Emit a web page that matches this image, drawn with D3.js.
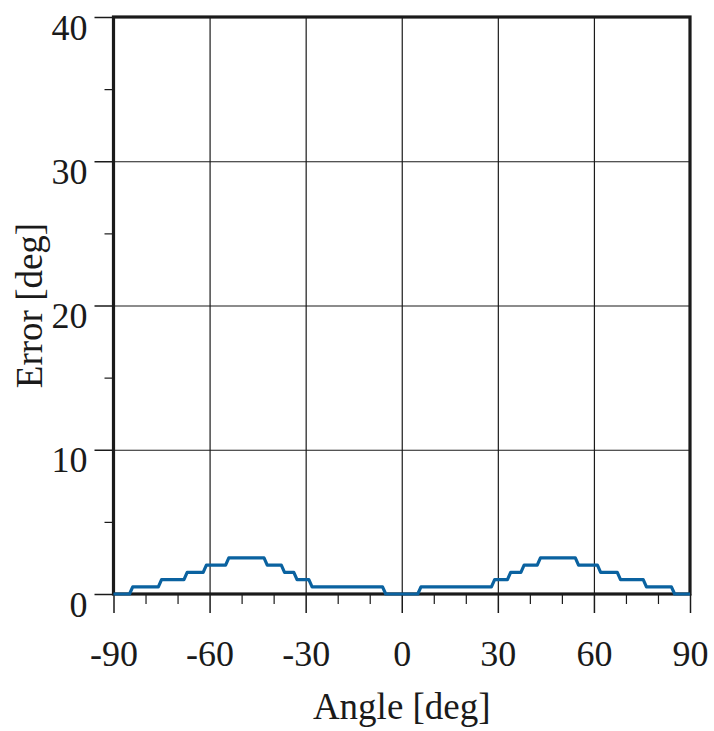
<!DOCTYPE html>
<html>
<head>
<meta charset="utf-8">
<script src="https://cdn.jsdelivr.net/npm/d3@7"></script>
<style>
  html, body { margin: 0; padding: 0; background: #fff; }
  svg { display: block; }
  text { font-family: "Liberation Serif", "Times New Roman", serif; fill: #1a1a1a; }
</style>
</head>
<body>
<svg id="chart" width="714" height="731"></svg>
<script>
// ---- data ----
const angles = [-90, -85, -84, -76, -75, -68, -67, -62, -61, -55, -54, -43, -42, -37.6, -36.6, -33.7, -32.7, -29, -28, -6, -5,
                5, 6, 28, 29, 33, 34, 37.2, 38.2, 42.3, 43.3, 54.2, 55.2, 61.1, 62.1, 67.3, 68.3, 75.4, 76.4, 84.2, 85.2, 90];
const errors = [0, 0, 0.5, 0.5, 1, 1, 1.5, 1.5, 2, 2, 2.5, 2.5, 2, 2, 1.5, 1.5, 1, 1, 0.5, 0.5, 0,
                0, 0.5, 0.5, 1, 1, 1.5, 1.5, 2, 2, 2.5, 2.5, 2, 2, 1.5, 1.5, 1, 1, 0.5, 0.5, 0, 0];
const xMajorTicks = [-90, -60, -30, 0, 30, 60, 90];
const xMinorTicks = [-80, -70, -50, -40, -20, -10, 10, 20, 40, 50, 70, 80];
const yMajorTicks = [0, 10, 20, 30, 40];
const yMinorTicks = [5, 15, 25, 35];
const xTitle = "Angle [deg]";
const yTitle = "Error [deg]";

// ---- layout ----
const svg = d3.select("#chart");
const pL = 113.5, pR = 690, pT = 17, pB = 594;
const x = d3.scaleLinear().domain([-90, 90]).range([pL, pR]);
const y = d3.scaleLinear().domain([0, 40]).range([pB, pT]);
const ink = "#1a1a1a";

// grid lines
svg.append("g")
  .attr("transform", `translate(0,${pB})`)
  .call(d3.axisBottom(x).tickValues(xMajorTicks.slice(1, -1)).tickSize(-(pB - pT)).tickFormat(""))
  .call(g => g.select(".domain").remove())
  .call(g => g.selectAll("line").attr("stroke", ink).attr("stroke-width", 1.2));
svg.append("g")
  .attr("transform", `translate(${pL},0)`)
  .call(d3.axisLeft(y).tickValues(yMajorTicks.slice(1, -1)).tickSize(-(pR - pL)).tickFormat(""))
  .call(g => g.select(".domain").remove())
  .call(g => g.selectAll("line").attr("stroke", ink).attr("stroke-width", 1.2));

// x axis ticks
const xAxisMajor = svg.append("g")
  .attr("transform", `translate(0,${pB})`)
  .call(d3.axisBottom(x).tickValues(xMajorTicks).tickSize(19).tickFormat(d => String(d)));
xAxisMajor.select(".domain").remove();
xAxisMajor.selectAll("line").attr("stroke", ink).attr("stroke-width", 1.5);
xAxisMajor.selectAll("text")
  .attr("y", 72).attr("dy", 0)
  .style("font-size", "36px")
  .style("font-family", "'Liberation Serif', serif")
  .attr("fill", ink);

const xAxisMinor = svg.append("g")
  .attr("transform", `translate(0,${pB})`)
  .call(d3.axisBottom(x).tickValues(xMinorTicks).tickSize(10).tickFormat(""));
xAxisMinor.select(".domain").remove();
xAxisMinor.selectAll("line").attr("stroke", ink).attr("stroke-width", 1.2);

// y axis ticks
const yAxisMajor = svg.append("g")
  .attr("transform", `translate(${pL},0)`)
  .call(d3.axisLeft(y).tickValues(yMajorTicks).tickSize(19).tickFormat(d => String(d)));
yAxisMajor.select(".domain").remove();
yAxisMajor.selectAll("line").attr("stroke", ink).attr("stroke-width", 1.5);
yAxisMajor.selectAll("text")
  .attr("x", -26).attr("dy", 22)
  .style("font-size", "36px")
  .style("font-family", "'Liberation Serif', serif")
  .attr("fill", ink);

const yAxisMinor = svg.append("g")
  .attr("transform", `translate(${pL},0)`)
  .call(d3.axisLeft(y).tickValues(yMinorTicks).tickSize(9).tickFormat(""));
yAxisMinor.select(".domain").remove();
yAxisMinor.selectAll("line").attr("stroke", ink).attr("stroke-width", 1.2);

// frame
svg.append("rect")
  .attr("x", pL).attr("y", pT)
  .attr("width", pR - pL).attr("height", pB - pT)
  .attr("fill", "none").attr("stroke", ink).attr("stroke-width", 3.2);

// data line (drawn over the frame, as in the reference)
const line = d3.line().x((d, i) => x(angles[i])).y((d, i) => y(errors[i]));
svg.append("path")
  .datum(errors)
  .attr("d", line)
  .attr("fill", "none")
  .attr("stroke", "#0a62a0")
  .attr("stroke-width", 3.2)
  .attr("stroke-linejoin", "round");

// titles
svg.append("text")
  .attr("x", (pL + pR) / 2).attr("y", 719)
  .attr("text-anchor", "middle")
  .style("font-size", "37px")
  .text(xTitle);
svg.append("text")
  .attr("transform", `translate(42,${(pT + pB) / 2}) rotate(-90)`)
  .attr("text-anchor", "middle")
  .style("font-size", "37px")
  .text(yTitle);
</script>
</body>
</html>
